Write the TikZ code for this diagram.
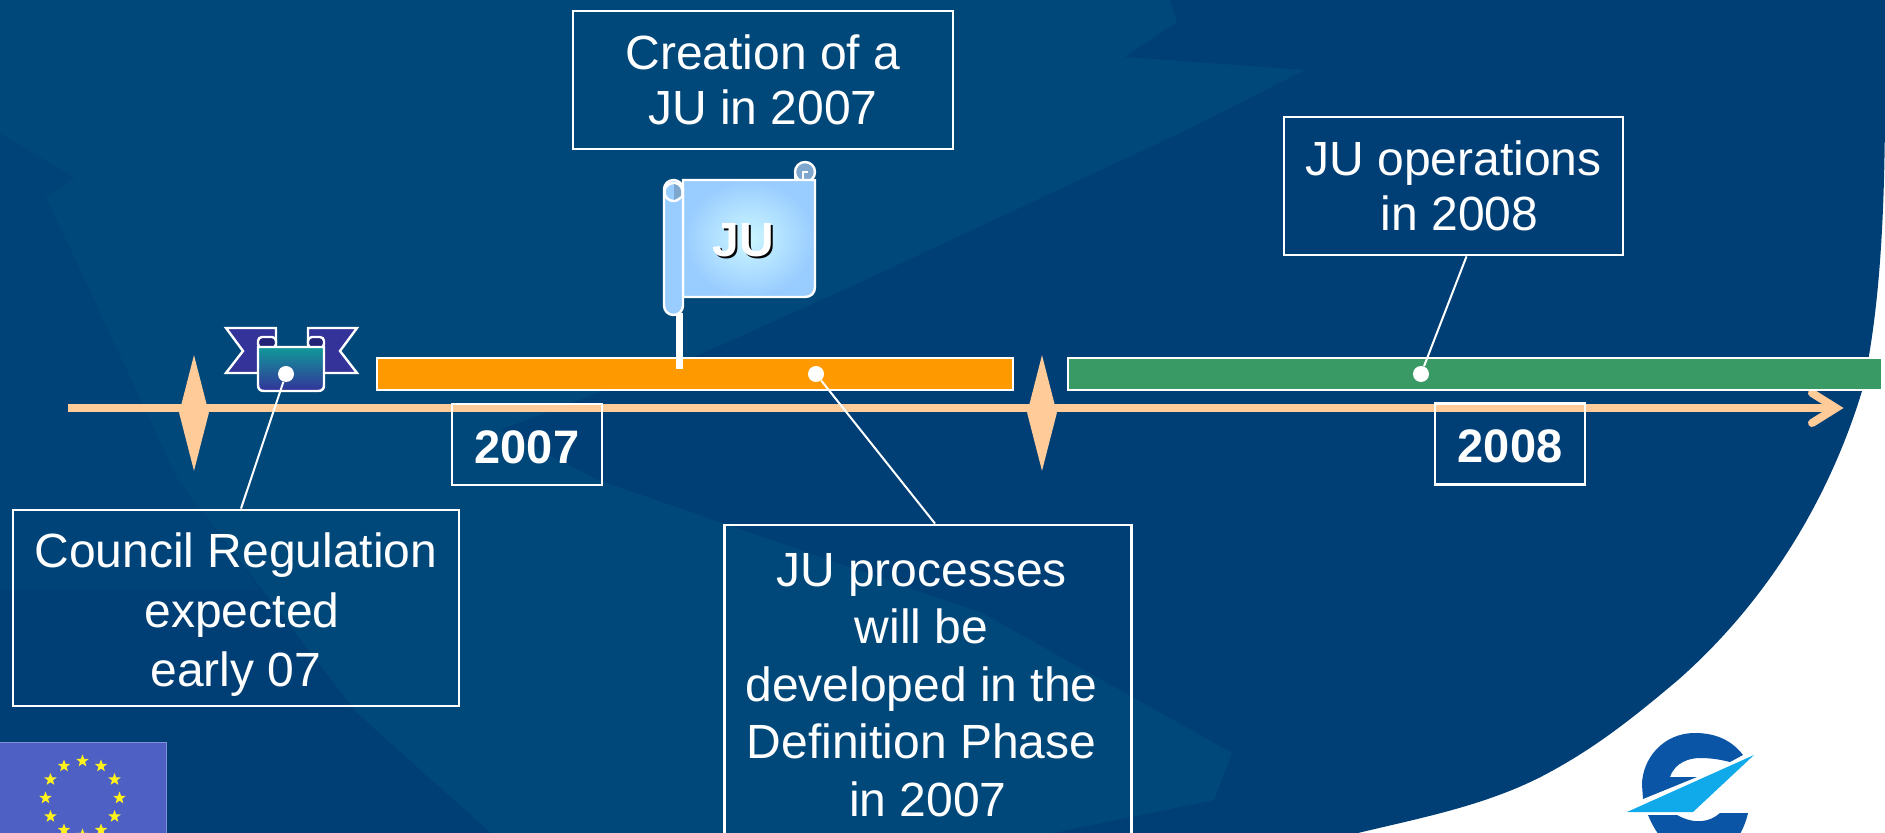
\documentclass[tikz,border=0pt]{standalone}
\usepackage{fontspec}
\setmainfont{Liberation Sans}
\usetikzlibrary{shapes.geometric}
\definecolor{bgdark}{HTML}{003F75}
\definecolor{bgmid}{HTML}{004378}
\definecolor{bglight}{HTML}{00487A}
\definecolor{peach}{HTML}{FFCC99}
\definecolor{barorange}{HTML}{FF9900}
\definecolor{bargreen}{HTML}{3A9A66}
\definecolor{flagblue}{HTML}{99CCFF}
\definecolor{flagpale}{HTML}{CCF7FF}
\definecolor{curlgrey}{HTML}{7FA6CC}
\definecolor{ribbonblue}{HTML}{333399}
\definecolor{ribbondark}{HTML}{222277}
\definecolor{ribbonteal}{HTML}{119999}
\definecolor{eublue}{HTML}{4F60C5}
\definecolor{logodark}{HTML}{0A55A5}
\definecolor{logolight}{HTML}{10AAEA}
\begin{document}
\begin{tikzpicture}[x=.5pt,y=-.5pt,
txtbox/.style={draw=white,line width=1.4pt,align=center,text=white,inner sep=0pt,font=\fontsize{24}{27.6}\selectfont},
yearbox/.style={txtbox,minimum width=75pt,minimum height=40.5pt,font=\fontsize{23.5}{27}\selectfont\bfseries},
bar/.style={draw=white,line width=1pt,inner sep=0pt,minimum height=16pt},
dot/.style={circle,fill=white,inner sep=0pt,minimum size=8pt},
leader/.style={draw=white,line width=1pt},
kite/.style={diamond,fill=peach,inner sep=0pt,minimum width=15pt,minimum height=58pt},
outline/.style={draw=white,line width=1.2pt},
eustar/.style={star,star points=5,star point ratio=2.4,fill=yellow!90!white,inner sep=0pt,minimum size=6.5pt}]
\useasboundingbox (0,0) rectangle (1885,833);
\clip (0,0) rectangle (1885,833);
\fill[white] (0,0) rectangle (1885,833);
\fill[bgdark] (0,0) -- (1885,0) -- (1885,100) .. controls (1885,230) and (1878,320) .. (1862,391) .. controls (1835,480) and (1780,590) .. (1678,680) .. controls (1640,712) and (1600,745) .. (1550,772) .. controls (1490,805) and (1420,818) .. (1358,833) -- (0,833) -- cycle;
\fill[bgmid] (0,133) -- (75,178) -- (46,197) -- (178,480) -- (260,590) -- (0,590) -- cycle;
\fill[bglight] (0,0) -- (1170,0) -- (1177,22) -- (1124,57) -- (1305,70) -- (1180,133) -- (850,287) -- (703,353) -- (500,430) -- (598,480) -- (982,613) -- (1232,753) -- (1214,800) -- (1053,833) -- (491,833) -- (357,713) -- (178,480) -- (46,197) -- (75,178) -- (0,133) -- cycle;

\coordinate (tstart) at (68,408);
\coordinate (ttip) at (1836,408);
\coordinate (barbup) at (1812,393);
\coordinate (barbdown) at (1812,423);
\draw[peach,line width=4pt] (tstart) -- (ttip);
\draw[peach,line width=4pt,line cap=round,miter limit=4] (barbup) -- (ttip) -- (barbdown);
\node[kite] (mark1) at (194,413) {};
\node[kite] (mark2) at (1042,413) {};

\node[bar,fill=barorange,minimum width=318pt] (orange) at (695,374) {};
\node[bar,fill=bargreen,minimum width=407pt] (green) at (1475,374.5) {};

\fill[outline,fill=ribbonblue] (226,328) -- (276,328) -- (276,373) -- (226,373) -- (243,351) -- cycle;
\fill[outline,fill=ribbonblue] (357,328) -- (308,328) -- (308,373) -- (357,373) -- (340,351) -- cycle;
\fill[outline,fill=ribbondark,rounded corners=2pt] (258,348) -- (258,337) -- (276,337) -- (276,348) -- cycle;
\fill[outline,fill=ribbondark,rounded corners=2pt] (324,348) -- (324,337) -- (308,337) -- (308,348) -- cycle;
\shade[outline,top color=ribbonteal,bottom color=ribbonblue] (258,347) -- (324,347) -- (324,385) .. controls (324,389) and (322,391) .. (318,391) -- (264,391) .. controls (260,391) and (258,389) .. (258,385) -- cycle;

\draw[white,line width=3.5pt] (679.5,313) -- (679.5,369);
\fill[outline,fill=curlgrey] (805,172) circle (10);
\shade[outline,inner color=flagpale,outer color=flagblue] (683,180) -- (815,180) -- (815,287) .. controls (815,293) and (811,297) .. (805,297) -- (683,297) -- cycle;
\draw[outline] (795,180) -- (795,174) (803,180) -- (803,172) -- (808,172);
\fill[outline,fill=flagblue,rounded corners=4.7pt] (664,180) rectangle (683,315);
\fill[outline,fill=flagblue] (673.5,192) circle (9);
\fill[curlgrey] (674,184) .. controls (680,185) and (682,190) .. (681,196) -- (674,200) -- cycle;
\node[font=\fontsize{24}{27}\selectfont\bfseries,text=black,inner sep=0pt] (jushadow) at (745,242) {JU};
\node[font=\fontsize{24}{27}\selectfont\bfseries,text=white,inner sep=0pt] (jutext) at (743,240) {JU};

\node[txtbox,minimum width=190pt,minimum height=69pt] (create) at (763,80) {Creation of a\\JU in 2007};
\node[txtbox,minimum width=169.5pt,minimum height=69pt] (ops) at (1453.5,186) {JU operations\\\hspace*{6pt}in 2008};
\node[txtbox,minimum width=223pt,minimum height=98pt,font=\fontsize{24}{29.8}\selectfont] (council) at (236,608) {\rule{0pt}{24pt}Council Regulation\\\hspace*{6pt}expected\\early 07};
\node[txtbox,minimum width=203.5pt,minimum height=160pt,font=\fontsize{24}{28.7}\selectfont] (proc) at (928,685) {\hspace*{-6.5pt}JU processes\\\hspace*{-6.5pt}will be\\\hspace*{-6.5pt}developed in the\\\hspace*{-6.5pt}Definition Phase\\in 2007};
\node[yearbox] (y2007) at (527,444.5) {\rule{0pt}{19pt}2007};
\node[yearbox] (y2008) at (1510,444) {\rule{0pt}{19pt}2008};

\node[dot] (dotcouncil) at (286,374) {};
\node[dot] (dotproc) at (816,374) {};
\node[dot] (dotops) at (1421,374) {};
\draw[leader] (dotcouncil) -- ([xshift=2.5pt]council.north);
\draw[leader] (dotproc) -- ([xshift=3.5pt]proc.north);
\draw[leader] (dotops) -- ([xshift=6.5pt]ops.south);

\fill[eublue,draw=eublue!70!white,line width=.5pt] (-5,742) rectangle (166,840);
\foreach \i in {0,...,11}
\node[eustar] (star\i) at ({82.5+37*cos(\i*30)},{798+37*sin(\i*30)}) {};

\fill[logodark] (1743,755) .. controls (1730,738) and (1712,733) .. (1695,733) .. controls (1662,733) and (1642,760) .. (1642,785) -- (1643,799) -- (1697,777) -- (1670,777) .. controls (1675,762) and (1690,758) .. (1700,758) .. controls (1712,758) and (1722,760) .. (1730,762) -- cycle;
\fill[logodark] (1648,815) .. controls (1652,825) and (1658,835) .. (1665,842) -- (1735,842) .. controls (1742,832) and (1746,822) .. (1748,813) -- (1720,813) .. controls (1710,822) and (1695,825) .. (1677,815) -- cycle;
\fill[logolight] (1627,812) -- (1754,755) -- (1693,812) -- cycle;
\end{tikzpicture}
\end{document}
